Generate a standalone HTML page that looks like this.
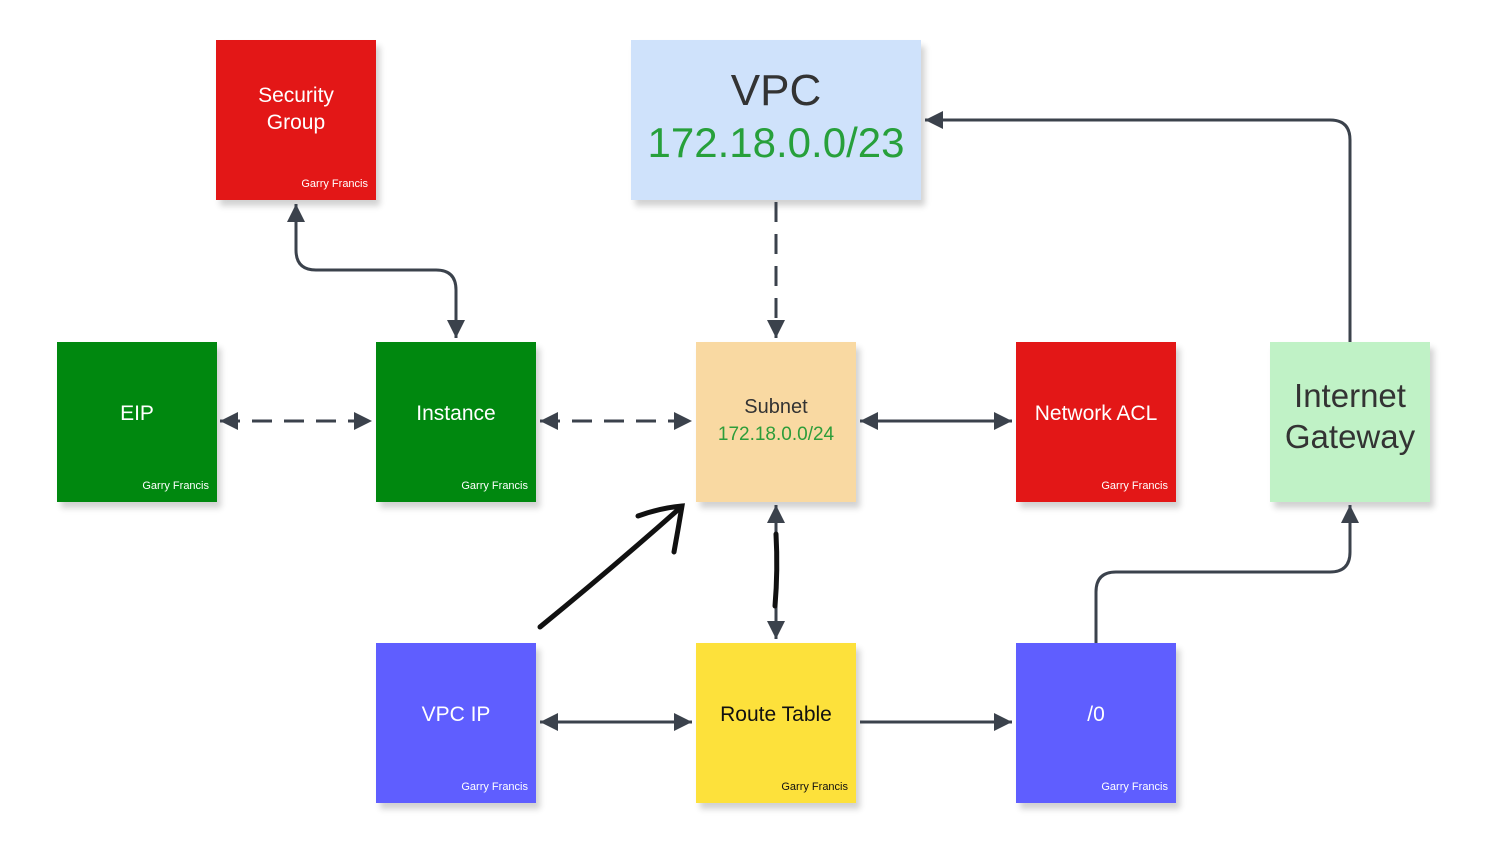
<!DOCTYPE html>
<html><head><meta charset="utf-8"><style>
html,body{margin:0;padding:0;background:#fff}
body{width:1488px;height:862px;position:relative;overflow:hidden;font-family:"Liberation Sans",sans-serif}
.n{position:absolute;width:160px;height:160px;box-sizing:border-box;padding-bottom:18px;box-shadow:4px 6px 6px rgba(0,0,0,0.18);display:flex;flex-direction:column;align-items:center;justify-content:center;text-align:center;color:#fff;font-size:21px;line-height:27px}
.a{position:absolute;right:8px;bottom:10px;font-size:11px;line-height:12px}
.r{background:#e31717}.g{background:#00880f}.b{background:#5f5eff}
svg{position:absolute;left:0;top:0}
</style></head><body>
<div class="n r" style="left:216px;top:40px;padding-bottom:22px">Security<br>Group<span class="a">Garry Francis</span></div>
<div class="n" style="left:631px;top:40px;width:290px;padding-bottom:6px;background:#cfe2fb;color:#333;font-size:44px;line-height:52px">VPC<span style="color:#27a03b;font-size:42px">172.18.0.0/23</span></div>
<div class="n g" style="left:57px;top:342px">EIP<span class="a">Garry Francis</span></div>
<div class="n g" style="left:376px;top:342px">Instance<span class="a">Garry Francis</span></div>
<div class="n" style="left:696px;top:342px;background:#f9d9a2;color:#333;font-size:20px;line-height:27px;padding-bottom:2px">Subnet<span style="color:#2d9d3a;font-size:19px">172.18.0.0/24</span></div>
<div class="n r" style="left:1016px;top:342px">Network ACL<span class="a">Garry Francis</span></div>
<div class="n" style="left:1270px;top:342px;background:#c0f2c6;color:#333;font-size:33px;line-height:41px;padding-bottom:12px">Internet<br>Gateway</div>
<div class="n b" style="left:376px;top:643px">VPC IP<span class="a">Garry Francis</span></div>
<div class="n" style="left:696px;top:643px;background:#fde13b;color:#111">Route Table<span class="a">Garry Francis</span></div>
<div class="n b" style="left:1016px;top:643px">/0<span class="a">Garry Francis</span></div>
<svg width="1488" height="862">
<defs><marker id="m" viewBox="0 0 10 10" refX="10" refY="5" markerWidth="6" markerHeight="6" orient="auto-start-reverse"><path d="M0,0L10,5L0,10z" fill="#3b424c"/></marker></defs>
<g stroke="#3b424c" stroke-width="3" fill="none">
<path d="M296,204 V250 Q296,270 316,270 H436 Q456,270 456,290 V338" marker-start="url(#m)" marker-end="url(#m)"/>
<path d="M220,421 H372" stroke-dasharray="20,12" marker-start="url(#m)" marker-end="url(#m)"/>
<path d="M540,421 H692" stroke-dasharray="20,12" marker-start="url(#m)" marker-end="url(#m)"/>
<path d="M776,202 V338" stroke-dasharray="20,12" marker-end="url(#m)"/>
<path d="M860,421 H1012" marker-start="url(#m)" marker-end="url(#m)"/>
<path d="M776,505 V639" marker-start="url(#m)" marker-end="url(#m)"/>
<path d="M540,722 H692" marker-start="url(#m)" marker-end="url(#m)"/>
<path d="M860,722 H1012"  marker-end="url(#m)"/>
<path d="M1350,342 V140 Q1350,120 1330,120 H925" marker-end="url(#m)"/>
<path d="M1096,643 V592 Q1096,572 1116,572 H1330 Q1350,572 1350,552 V505" marker-end="url(#m)"/>
</g>
<g stroke="#111" stroke-width="5" fill="none" stroke-linecap="round">
<path d="M540,627 Q610,570 680,508"/>
<path d="M638,516 Q660,508 682,506 Q678,530 674,552"/>
<path d="M776,534 Q778,570 775,606"/>
</g>
</svg>
</body></html>
